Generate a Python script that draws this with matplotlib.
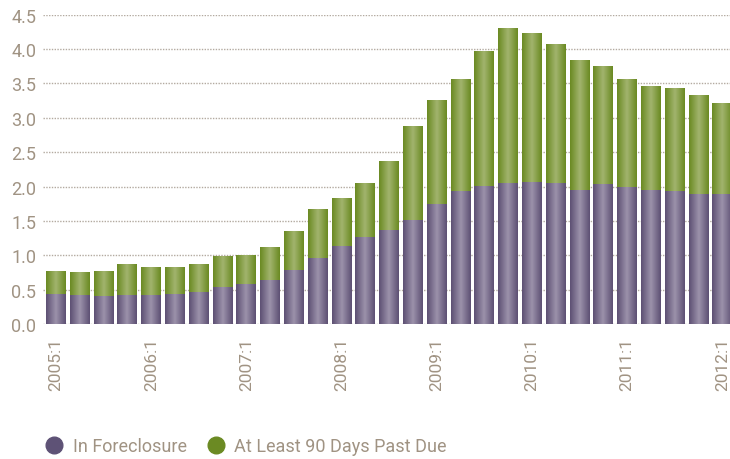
import matplotlib.pyplot as plt
import numpy as np
from matplotlib.lines import Line2D
from matplotlib.colors import LinearSegmentedColormap

# quarterly data, 2005:1 - 2012:1 (percent of loans)
quarters = [f"{y}:{q}" for y in range(2005, 2013) for q in range(1, 5)][:29]
foreclosure = [0.44, 0.42, 0.41, 0.42, 0.42, 0.44, 0.47, 0.54, 0.58, 0.64,
               0.79, 0.96, 1.14, 1.27, 1.37, 1.51, 1.75, 1.94, 2.01, 2.05,
               2.07, 2.05, 1.95, 2.04, 1.99, 1.95, 1.94, 1.89, 1.89]
total = [0.76, 0.74, 0.76, 0.87, 0.82, 0.82, 0.87, 0.98, 0.99, 1.11,
         1.35, 1.67, 1.83, 2.05, 2.36, 2.87, 3.26, 3.56, 3.96, 4.29,
         4.23, 4.06, 3.83, 3.75, 3.55, 3.45, 3.43, 3.32, 3.20]
past_due = [t - f for t, f in zip(total, foreclosure)]

label_color = '#a09383'
purple_cmap = LinearSegmentedColormap.from_list('p', ['#5d5073', '#9c92ab', '#5d5073'])
green_cmap = LinearSegmentedColormap.from_list('g', ['#6a8a22', '#a2b46e', '#6a8a22'])

plt.rcParams['font.family'] = ['Roboto', 'DejaVu Sans']

fig = plt.figure(figsize=(7.3, 4.6), dpi=100)
ax = fig.add_axes([0.059, 0.293, 0.941, 0.673])

x = np.arange(len(quarters))
width = 0.84
grad = np.linspace(0, 1, 64).reshape(1, -1)

# draw gradient bars
for i in x:
    ax.imshow(grad, cmap=purple_cmap, aspect='auto', interpolation='bilinear',
              extent=[i - width / 2, i + width / 2, 0, foreclosure[i]], zorder=2)
    ax.imshow(grad, cmap=green_cmap, aspect='auto', interpolation='bilinear',
              extent=[i - width / 2, i + width / 2, foreclosure[i],
                      foreclosure[i] + past_due[i]], zorder=2)

ax.set_xlim(-0.546, 28.32)
ax.set_ylim(0, 4.5)
ax.set_yticks(np.arange(0, 4.51, 0.5))
ax.set_yticklabels([f"{v:.1f}" for v in np.arange(0, 4.51, 0.5)])
ax.set_xticks(x[::4])
ax.set_xticklabels([quarters[i] for i in x[::4]], rotation=90)
ax.tick_params(axis='y', length=0, pad=5, labelsize=13, labelcolor=label_color)
ax.tick_params(axis='x', length=0, pad=9, labelsize=12.5, labelcolor=label_color)
ax.grid(axis='y', linestyle=(0, (1, 1)), color='#b3aaa0', linewidth=1.0, zorder=1)
ax.set_axisbelow(True)
for s in ax.spines.values():
    s.set_visible(False)

handles = [Line2D([], [], marker='o', linestyle='', markersize=12,
                  color='#5e5276', label='In Foreclosure'),
           Line2D([], [], marker='o', linestyle='', markersize=12,
                  color='#6b8a23', label='At Least 90 Days Past Due')]
leg = fig.legend(handles=handles, loc='center left', bbox_to_anchor=(0.04, 0.028),
                 ncol=2, frameon=False, fontsize=13, handlelength=1.0,
                 handletextpad=0.5, columnspacing=1.15)
for t in leg.get_texts():
    t.set_color(label_color)

fig.savefig('out.png', dpi=100)
